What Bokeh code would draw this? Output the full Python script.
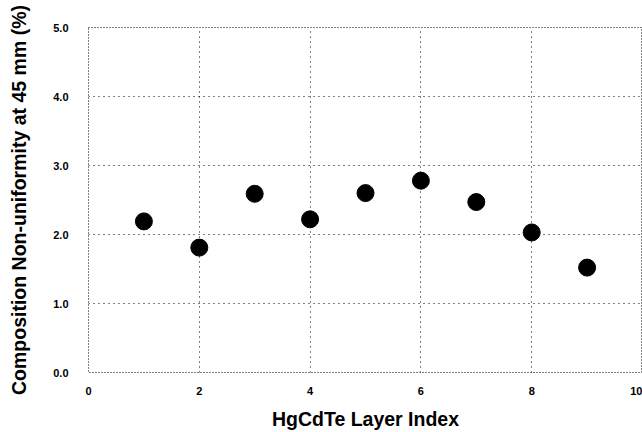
from bokeh.plotting import figure
from bokeh.models import Range1d, PrintfTickFormatter, FixedTicker
from bokeh.embed import file_html
from bokeh.resources import INLINE

layer_index = [1, 2, 3, 4, 5, 6, 7, 8, 9]
nonuniformity = [2.19, 1.81, 2.59, 2.22, 2.60, 2.78, 2.47, 2.03, 1.52]
x_ticks = [0, 2, 4, 6, 8, 10]
y_ticks = [0, 1, 2, 3, 4, 5]

p = figure(width=642, height=432, output_backend="svg", toolbar_location=None,
           x_range=Range1d(0, 10), y_range=Range1d(0, 5),
           min_border_left=88, min_border_right=0, min_border_top=27, min_border_bottom=0)

p.scatter(layer_index, nonuniformity, size=17, color="black")

p.outline_line_color = "black"
p.outline_line_dash = "1 2"
p.outline_line_width = 1

for ax in (p.xaxis[0], p.yaxis[0]):
    ax.axis_line_color = None
    ax.major_tick_line_color = None
    ax.minor_tick_line_color = None
    ax.major_tick_out = 0
    ax.major_tick_in = 0
    ax.minor_tick_out = 0
    ax.minor_tick_in = 0
    ax.major_label_text_font = "Liberation Sans"
    ax.major_label_text_font_style = "bold"
    ax.major_label_text_font_size = "11px"
    ax.major_label_text_color = "black"
    ax.axis_label_text_font = "Liberation Sans"
    ax.axis_label_text_font_style = "bold"
    ax.axis_label_text_font_size = "19.5px"
    ax.axis_label_text_color = "black"

p.xaxis.ticker = FixedTicker(ticks=x_ticks)
p.yaxis.ticker = FixedTicker(ticks=y_ticks)
p.yaxis.formatter = PrintfTickFormatter(format="%.1f")
p.xaxis.major_label_standoff = 14
p.yaxis.major_label_standoff = 20
p.xaxis.axis_label = "HgCdTe Layer Index"
p.yaxis.axis_label = "Composition Non-uniformity at 45 mm (%)"
p.xaxis.axis_label_standoff = 10
p.yaxis.axis_label_standoff = 20

p.xgrid.grid_line_color = "black"
p.ygrid.grid_line_color = "black"
p.xgrid.grid_line_dash = "1 4"
p.ygrid.grid_line_dash = "1 4"
p.xgrid.grid_line_width = 1
p.ygrid.grid_line_width = 1

open("out.html", "w").write(file_html(p, INLINE))
